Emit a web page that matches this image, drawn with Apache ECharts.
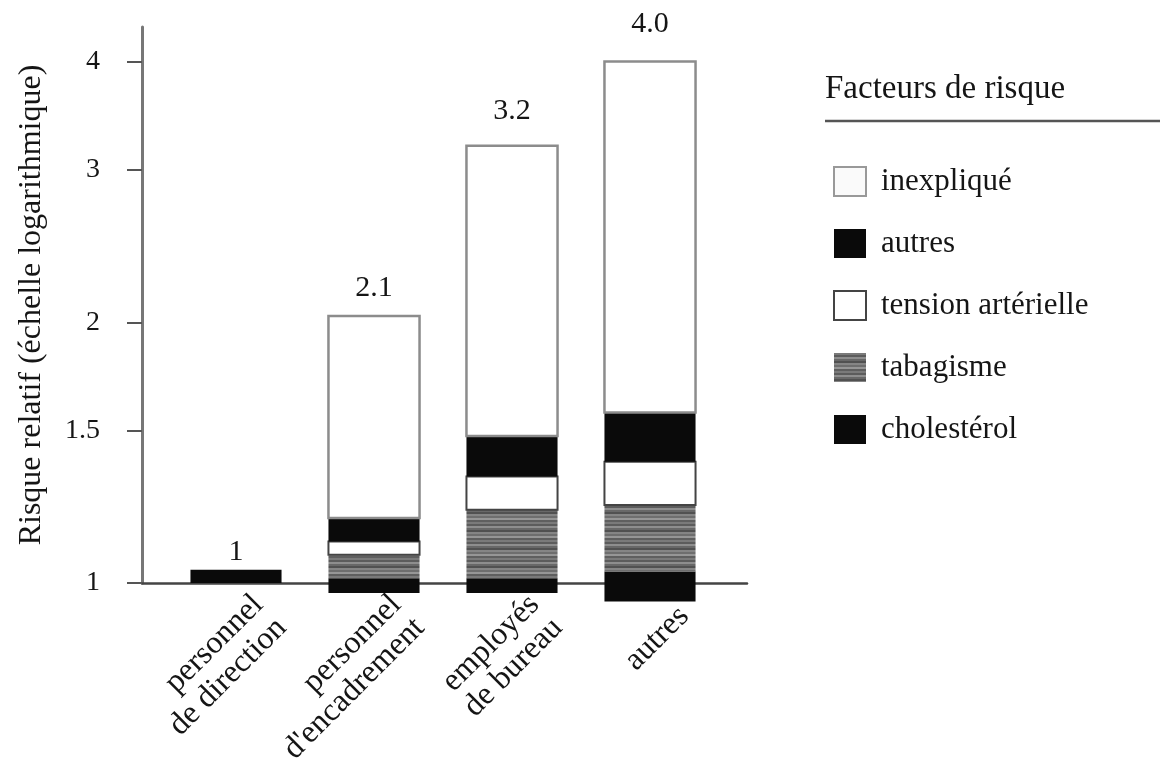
<!DOCTYPE html>
<html><head><meta charset="utf-8">
<script src="https://cdn.jsdelivr.net/npm/echarts@6/dist/echarts.min.js"></script>
<style>html,body{margin:0;padding:0;background:#fff}#c{width:1160px;height:768px}</style>
</head><body><div id="c"></div>
<script>
// ---- data ----
const categories = ['personnel\nde direction', "personnel\nd'encadrement", 'employés\nde bureau', 'autres'];
const barBase = [1, 0.974, 0.974, 0.952];            // lower end of each stacked bar
const cholesterolTop = [1.036, 1.013, 1.013, 1.031];  // upper bound of each segment (relative risk)
const tabagismeTop = [null, 1.078, 1.215, 1.231];
const tensionTop = [null, 1.117, 1.328, 1.381];
const autresTop = [null, 1.189, 1.479, 1.574];
const inexpliqueTop = [null, 2.035, 3.200, 4.005];
const totalLabels = ['1', '2.1', '3.2', '4.0'];
const yTicks = [1, 1.5, 2, 3, 4];
const legendOrder = ['inexpliqué', 'autres', 'tension artérielle', 'tabagisme', 'cholestérol'];

// ---- styles ----
const FONT = '"Liberation Serif", "Times New Roman", serif';
const TXT = '#151515';
const pc = document.createElement('canvas');
pc.width = 8; pc.height = 18;
const pctx = pc.getContext('2d');
const stripes = ['#7a7a7a', '#5c5c5c', '#8e8e8e', '#686868', '#515151', '#858585', '#6e6e6e', '#969696', '#5f5f5f'];
stripes.forEach((c, k) => { pctx.fillStyle = c; pctx.fillRect(0, k * 2, 8, 2); });
const stripePattern = { image: pc, repeat: 'repeat' };

const factorStyles = {
  'cholestérol': { fill: '#0a0a0a' },
  'tabagisme': { fill: stripePattern },
  'tension artérielle': { fill: '#ffffff', stroke: '#444', lineWidth: 2 },
  'autres': { fill: '#0a0a0a' },
  'inexpliqué': { fill: '#ffffff', stroke: '#8c8c8c', lineWidth: 2.5 }
};
const legendStyles = {
  'cholestérol': { color: '#0a0a0a' },
  'tabagisme': { color: stripePattern },
  'tension artérielle': { color: '#ffffff', borderColor: '#444', borderWidth: 2 },
  'autres': { color: '#0a0a0a' },
  'inexpliqué': { color: '#fafafa', borderColor: '#999', borderWidth: 2 }
};

// ---- build stacked segments (bottom -> top) ----
const stackOrder = [
  ['cholestérol', cholesterolTop],
  ['tabagisme', tabagismeTop],
  ['tension artérielle', tensionTop],
  ['autres', autresTop],
  ['inexpliqué', inexpliqueTop]
];
const segData = {};
stackOrder.forEach(([n]) => segData[n] = []);
const totals = [];
categories.forEach((c, i) => {
  let prev = barBase[i];
  stackOrder.forEach(([n, arr]) => {
    if (arr[i] != null) { segData[n].push([i, prev, arr[i]]); prev = arr[i]; }
  });
  totals.push([i, prev]);
});

function segRenderer(name) {
  return function (params, api) {
    const x = api.value(0);
    const lo = api.coord([x, api.value(1)]);
    const hi = api.coord([x, api.value(2)]);
    const w = api.size([1, 0])[0] * 0.66;
    return {
      type: 'rect',
      shape: { x: lo[0] - w / 2, y: hi[1], width: w, height: lo[1] - hi[1] },
      style: Object.assign({}, factorStyles[name])
    };
  };
}

const series = stackOrder.map(([n]) => ({
  type: 'custom', name: n, xAxisIndex: 0, yAxisIndex: 0,
  encode: { x: 0, y: [1, 2] },
  itemStyle: { color: legendStyles[n].color },
  renderItem: segRenderer(n),
  data: segData[n]
}));
series.push({
  type: 'custom', name: 'total', xAxisIndex: 0, yAxisIndex: 0,
  encode: { x: 0, y: 1 },
  renderItem: function (params, api) {
    const p = api.coord([api.value(0), api.value(1)]);
    const base = api.coord([api.value(0), 1]);
    const gap = 17 + 0.04 * (base[1] - p[1]);
    return {
      type: 'text',
      style: { text: totalLabels[params.dataIndex], x: p[0], y: p[1] - gap,
        align: 'center', verticalAlign: 'middle', fontSize: 30, fontFamily: FONT, fill: TXT }
    };
  },
  data: totals
});

const chart = echarts.init(document.getElementById('c'));
chart.setOption({
  animation: false,
  backgroundColor: '#fff',
  title: {
    text: 'Facteurs de risque', left: 820, top: 66,
    textStyle: { fontSize: 33, fontWeight: 'normal', fontFamily: FONT, color: TXT, lineHeight: 36 }
  },
  graphic: [{
    type: 'line', shape: { x1: 825, y1: 121, x2: 1160, y2: 121 },
    style: { stroke: '#555', lineWidth: 2.5 }
  }],
  legend: {
    orient: 'vertical', left: 828, top: 161,
    itemWidth: 32, itemHeight: 29, itemGap: 31, icon: 'rect',
    selectedMode: false,
    textStyle: { fontSize: 31, fontFamily: FONT, color: TXT, lineHeight: 30, padding: [0, 0, 0, 10] },
    data: legendOrder.map(n => ({ name: n, itemStyle: legendStyles[n] }))
  },
  grid: [
    { left: 167, right: 441, top: 27, bottom: 185 },
    { left: 142, right: 413, top: 27, bottom: 185 },
    { left: 201, right: 407, top: 27, bottom: 185 }
  ],
  xAxis: [
    { type: 'category', gridIndex: 0, data: categories,
      axisLine: { show: false }, axisTick: { show: false }, axisLabel: { show: false } },
    { type: 'value', gridIndex: 1, min: 0, max: 1,
      axisLine: { show: true, lineStyle: { color: '#444', width: 2.5 } },
      axisTick: { show: false }, axisLabel: { show: false }, splitLine: { show: false } },
    { type: 'category', gridIndex: 2, data: categories,
      axisLine: { show: false }, axisTick: { show: false },
      axisLabel: { show: true, interval: 0, rotate: 45, margin: 37, fontSize: 32, lineHeight: 33,
        fontFamily: FONT, color: TXT } }
  ],
  yAxis: [
    { type: 'log', gridIndex: 0, min: 1, max: 4.39, show: false },
    { type: 'log', gridIndex: 1, min: 1, max: 4.39,
      name: 'Risque relatif (échelle logarithmique)', nameLocation: 'middle', nameRotate: 90, nameGap: 94,
      nameTextStyle: { fontSize: 32, fontFamily: FONT, color: TXT },
      axisLine: { show: true, lineStyle: { color: '#777', width: 3 } },
      axisTick: { show: true, inside: false, length: 15, customValues: yTicks, lineStyle: { color: '#555', width: 2 } },
      axisLabel: { show: true, customValues: yTicks, margin: 42, fontSize: 28, fontFamily: FONT, color: TXT,
        formatter: v => String(v) },
      splitLine: { show: false } },
    { type: 'value', gridIndex: 2, show: false }
  ],
  series: series
});
</script>
</body></html>
